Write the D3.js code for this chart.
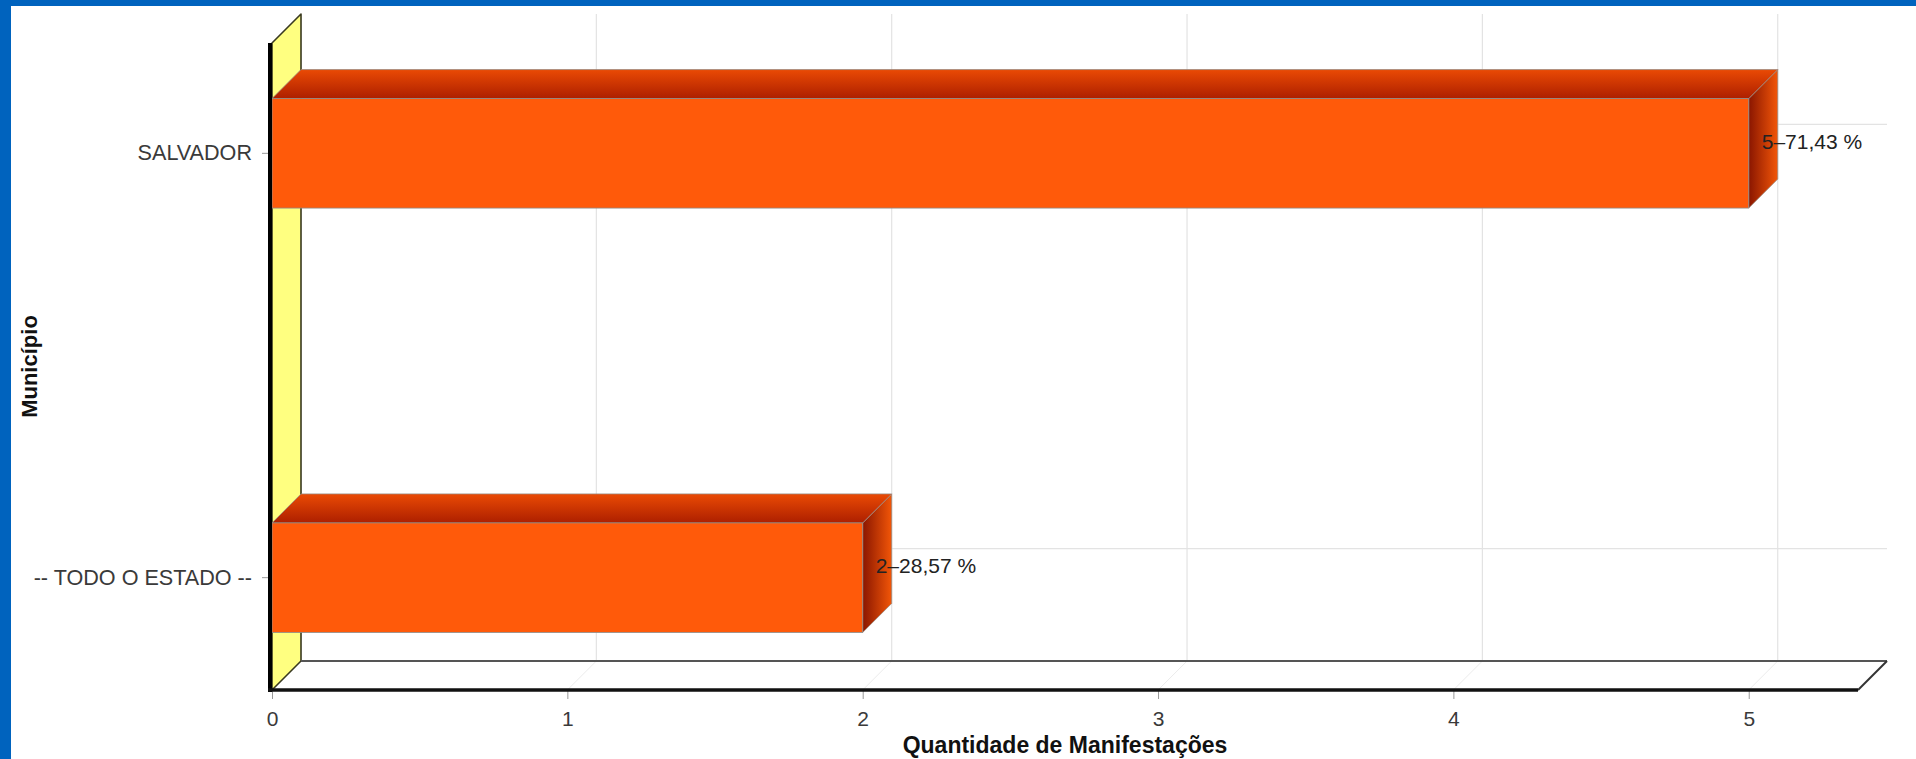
<!DOCTYPE html>
<html><head><meta charset="utf-8">
<script src="https://cdn.jsdelivr.net/npm/d3@7"></script>
<style>html,body{margin:0;padding:0;overflow:hidden;background:#fff}</style>
</head><body><svg id="c" width="1916" height="759"></svg>
<script>
// ---- data ----
const categories = ["SALVADOR", "-- TODO O ESTADO --"];
const values = [5, 2];
const xTicks = [0, 1, 2, 3, 4, 5];
const xTitle = "Quantidade de Manifestações";
const yTitle = "Município";

const total = d3.sum(values);
const pctLabel = v => v + "\u2013" + (v / total * 100).toFixed(2).replace(".", ",") + " %";

// ---- layout ----
const W = 1916, H = 759;
const depth = 29;
const front = {left: 272, right: 1858, top: 43, bottom: 690};
const FONT = "'Liberation Sans', Arial, sans-serif";

const svg = d3.select("#c");
const x = d3.scaleLinear().domain([0, 5.37]).range([front.left, front.right]);
const y = d3.scaleBand().domain(categories).range([front.top, front.bottom - 2])
  .paddingInner(0.742).paddingOuter(0.131);

const defs = svg.append("defs");
const gTop = defs.append("linearGradient").attr("id", "gTop").attr("x1", 0).attr("y1", 0).attr("x2", 0).attr("y2", 1);
gTop.append("stop").attr("offset", "0%").attr("stop-color", "#ea4a04");
gTop.append("stop").attr("offset", "100%").attr("stop-color", "#ad1f00");
const gSide = defs.append("linearGradient").attr("id", "gSide").attr("x1", 0).attr("y1", 0).attr("x2", 1).attr("y2", 0);
gSide.append("stop").attr("offset", "0%").attr("stop-color", "#8a1600");
gSide.append("stop").attr("offset", "100%").attr("stop-color", "#f25608");

// background frame
svg.append("rect").attr("width", W).attr("height", H).attr("fill", "#0063be");
svg.append("rect").attr("x", 11).attr("y", 6).attr("width", W - 11).attr("height", H - 6).attr("fill", "#ffffff");

// back-plane gridlines
const grid = svg.append("g");
grid.selectAll("line.v").data(xTicks).join("line")
  .attr("x1", d => x(d) + depth).attr("x2", d => x(d) + depth)
  .attr("y1", front.top - depth).attr("y2", front.bottom - depth)
  .attr("stroke", "#e3e3e3").attr("stroke-width", 1.2);
grid.selectAll("line.h").data(categories).join("line")
  .attr("x1", front.left + depth).attr("x2", front.right + depth)
  .attr("y1", d => y(d) + y.bandwidth() / 2 - depth).attr("y2", d => y(d) + y.bandwidth() / 2 - depth)
  .attr("stroke", "#e3e3e3").attr("stroke-width", 1.2);
// floor diagonals
grid.selectAll("line.d").data(xTicks).join("line")
  .attr("x1", d => x(d)).attr("x2", d => x(d) + depth)
  .attr("y1", front.bottom).attr("y2", front.bottom - depth)
  .attr("stroke", "#ececec").attr("stroke-width", 1);

// wall
svg.append("path")
  .attr("d", `M${front.left},${front.top} L${front.left + depth},${front.top - depth} L${front.left + depth},${front.bottom - depth} L${front.left},${front.bottom} Z`)
  .attr("fill", "#ffff80").attr("stroke", "#3a3a20").attr("stroke-width", 1.6).attr("stroke-linejoin", "round");

// floor edges
svg.append("line").attr("x1", front.left + depth).attr("x2", front.right + depth)
  .attr("y1", front.bottom - depth).attr("y2", front.bottom - depth)
  .attr("stroke", "#555").attr("stroke-width", 2);
svg.append("line").attr("x1", front.right).attr("x2", front.right + depth)
  .attr("y1", front.bottom).attr("y2", front.bottom - depth)
  .attr("stroke", "#333").attr("stroke-width", 2);

// bars
const bars = svg.append("g").selectAll("g").data(categories.map((c, i) => ({c, v: values[i]}))).join("g");
bars.append("path") // side
  .attr("d", d => {
    const x1 = x(d.v), y0 = y(d.c), y1 = y0 + y.bandwidth();
    return `M${x1},${y0} L${x1 + depth},${y0 - depth} L${x1 + depth},${y1 - depth} L${x1},${y1} Z`;
  })
  .attr("fill", "url(#gSide)").attr("stroke", "#9a8a80").attr("stroke-width", 0.8);
bars.append("path") // top
  .attr("d", d => {
    const x0 = x(0), x1 = x(d.v), y0 = y(d.c);
    return `M${x0},${y0} L${x0 + depth},${y0 - depth} L${x1 + depth},${y0 - depth} L${x1},${y0} Z`;
  })
  .attr("fill", "url(#gTop)").attr("stroke", "#9a8a80").attr("stroke-width", 0.8);
bars.append("rect") // front
  .attr("x", x(0)).attr("y", d => y(d.c))
  .attr("width", d => x(d.v) - x(0)).attr("height", y.bandwidth())
  .attr("fill", "#ff5a0a").attr("stroke", "#8c8c8c").attr("stroke-width", 0.8);

// axes
const ax = svg.append("g").attr("transform", `translate(0,${front.bottom})`)
  .call(d3.axisBottom(x).tickValues(xTicks).tickFormat(d3.format("d")).tickSize(9).tickPadding(12));
ax.select(".domain").remove();
ax.selectAll(".tick line").attr("stroke", "#999");
ax.selectAll(".tick text").attr("font-family", FONT).attr("font-size", 21).attr("fill", "#3a3a3a");

const ay = svg.append("g").attr("transform", `translate(${front.left - 3},0)`)
  .call(d3.axisLeft(y).tickSize(7).tickPadding(10));
ay.select(".domain").remove();
ay.selectAll(".tick line").attr("stroke", "#999");
ay.selectAll(".tick text").attr("font-family", FONT).attr("font-size", 21.6).attr("fill", "#3a3a3a");

// thick axis lines
svg.append("line").attr("x1", front.left - 2).attr("x2", front.left - 2)
  .attr("y1", front.top).attr("y2", front.bottom + 2)
  .attr("stroke", "#000").attr("stroke-width", 4);
svg.append("line").attr("x1", front.left - 4).attr("x2", front.right)
  .attr("y1", front.bottom).attr("y2", front.bottom)
  .attr("stroke", "#111").attr("stroke-width", 3.5);

// value labels
svg.append("g").selectAll("text").data(categories.map((c, i) => ({c, v: values[i]}))).join("text")
  .attr("x", d => x(d.v) + 13)
  .attr("y", d => y(d.c) + y.bandwidth() / 2 - 12)
  .attr("dy", "0.35em")
  .attr("font-family", FONT).attr("font-size", 21).attr("fill", "#222")
  .text(d => pctLabel(d.v));

// titles
svg.append("text").attr("x", (front.left + front.right) / 2).attr("y", 753)
  .attr("text-anchor", "middle").attr("font-family", FONT).attr("font-weight", "bold")
  .attr("font-size", 23).attr("fill", "#111").text(xTitle);
svg.append("text").attr("transform", `translate(37,${(front.top + front.bottom) / 2}) rotate(-90)`)
  .attr("text-anchor", "middle").attr("font-family", FONT).attr("font-weight", "bold")
  .attr("font-size", 22).attr("fill", "#111").text(yTitle);
</script></body></html>
